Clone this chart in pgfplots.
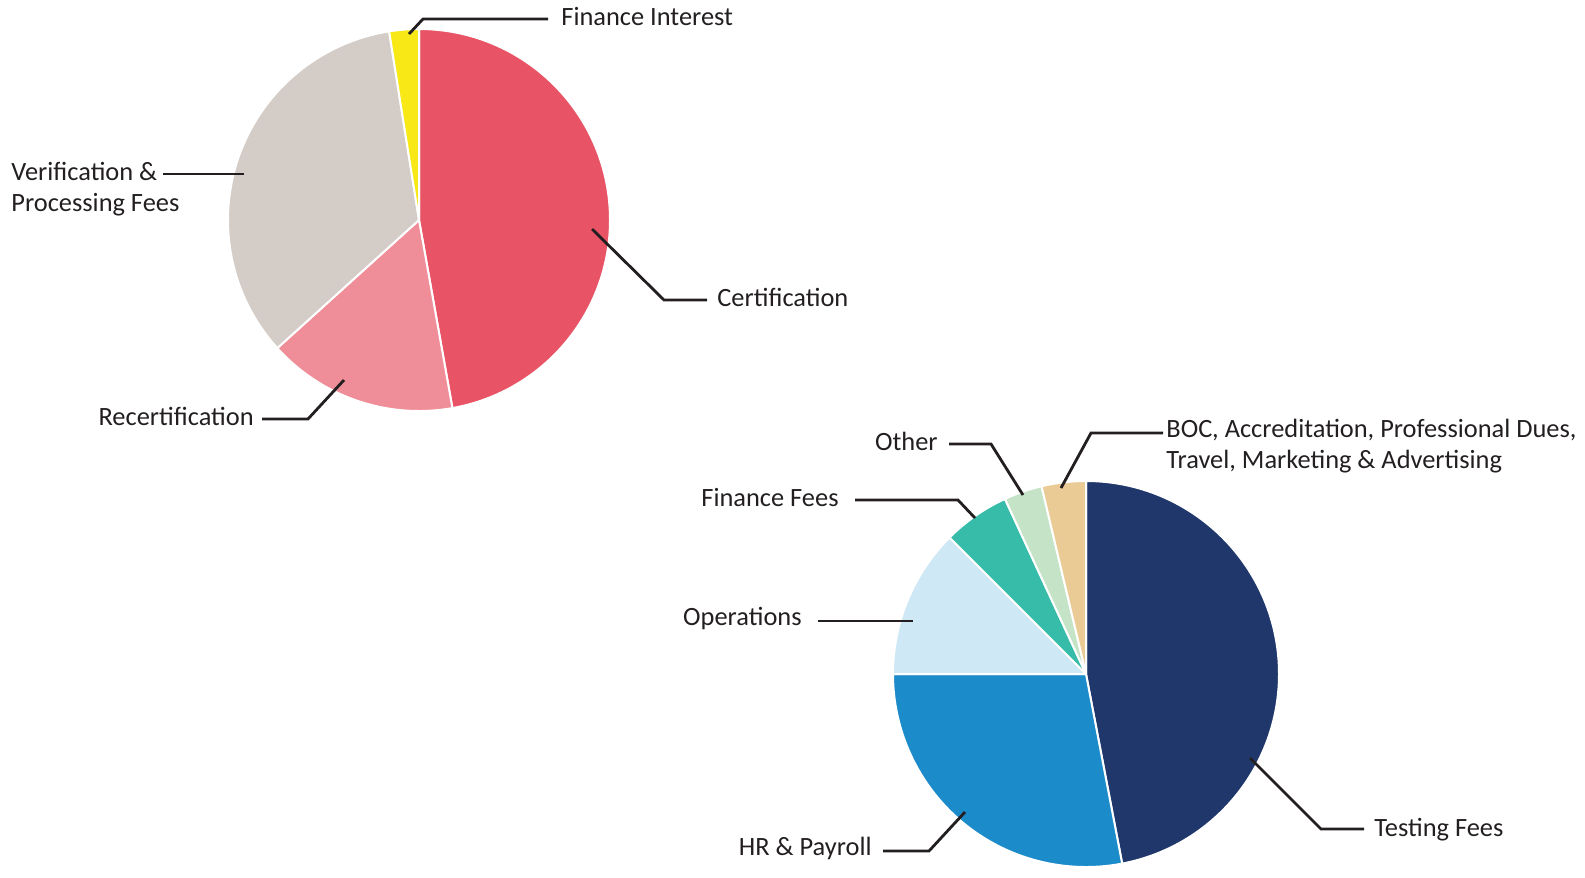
\documentclass[border=0pt]{standalone}
\usepackage{pgfplots}
\pgfplotsset{compat=1.18}
\usepackage{fontspec}
\setmainfont{Carlito}

\definecolor{certred}{HTML}{E85466}
\definecolor{recertpink}{HTML}{EF8E98}
\definecolor{verifgray}{HTML}{D4CCC7}
\definecolor{finyellow}{HTML}{F7E816}
\definecolor{testnavy}{HTML}{1F376B}
\definecolor{hrblue}{HTML}{1C8BCA}
\definecolor{opsblue}{HTML}{CFE8F5}
\definecolor{finteal}{HTML}{36BCA9}
\definecolor{othergreen}{HTML}{C5E3C6}
\definecolor{bocsand}{HTML}{EBCB95}
\definecolor{labeltext}{HTML}{231F20}

% slices go clockwise from 12 o'clock; #4 is value/colour pairs (percent)
\newcommand{\pieslices}[4]{%
  \foreach \v/\c [evaluate=\v as \e using \s-3.6*\v,
                  remember=\e as \s (initially 90)] in {#4}{%
    \edef\tmp{\noexpand\filldraw[fill=\c, draw=white, line width=1pt, line join=round]
      (axis cs:#1,#2) -- ([shift={(\s:#3)}]axis cs:#1,#2)
      arc[start angle=\s, end angle=\e, radius=#3] -- cycle;}%
    \tmp
  }%
}

\begin{document}
\begin{tikzpicture}
\begin{axis}[
    x=0.5pt, y=0.5pt,
    xmin=0, xmax=1585,
    ymin=0, ymax=869,
    y dir=reverse,
    hide axis,
    clip=false,
]
\path (axis cs:0,0) rectangle (axis cs:1585,869);

% revenue
\pieslices{419}{220}{95.5pt}{47.2/certred, 16.1/recertpink, 34.2/verifgray, 2.5/finyellow}
% expenses
\pieslices{1086}{674}{96.5pt}{47.0/testnavy, 28.0/hrblue, 12.5/opsblue, 5.6/finteal, 3.2/othergreen, 3.7/bocsand}

\begin{scope}[line width=1.4pt, labeltext,
  every node/.style={inner sep=0pt, text=labeltext, align=left,
    font=\fontsize{13.2}{15.6}\selectfont}]
  \draw (axis cs:409,34) -- (axis cs:423,19) -- (axis cs:548,19);
  \node[anchor=mid west] at (axis cs:560,21) {Finance Interest};

  \draw (axis cs:163,174) -- (axis cs:244,174);
  \node[anchor=north west] at (axis cs:10,161) {Verification \&\\Processing Fees};

  \draw (axis cs:592,229) -- (axis cs:664,300) -- (axis cs:707,300);
  \node[anchor=mid west] at (axis cs:716,302) {Certification};

  \draw (axis cs:344,380) -- (axis cs:308,419) -- (axis cs:262,419);
  \node[anchor=mid east] at (axis cs:255,421) {Recertification};

  \draw (axis cs:1023,495) -- (axis cs:991,444) -- (axis cs:949,444);
  \node[anchor=mid east] at (axis cs:939,446) {Other};

  \draw (axis cs:975,518) -- (axis cs:958,500) -- (axis cs:855,500);
  \node[anchor=mid east] at (axis cs:840,502) {Finance Fees};

  \draw (axis cs:1061,488) -- (axis cs:1091,433) -- (axis cs:1163,433);
  \node[anchor=north west] at (axis cs:1165,418) {BOC, Accreditation, Professional Dues,\\Travel, Marketing \& Advertising};

  \draw (axis cs:818,621) -- (axis cs:913,621);
  \node[anchor=mid east] at (axis cs:803,621) {Operations};

  \draw (axis cs:965,812) -- (axis cs:929,851) -- (axis cs:883,851);
  \node[anchor=mid east] at (axis cs:873,851) {HR \& Payroll};

  \draw (axis cs:1250,758) -- (axis cs:1321,829) -- (axis cs:1364,829);
  \node[anchor=mid west] at (axis cs:1373,832) {Testing Fees};
\end{scope}
\end{axis}
\end{tikzpicture}
\end{document}
